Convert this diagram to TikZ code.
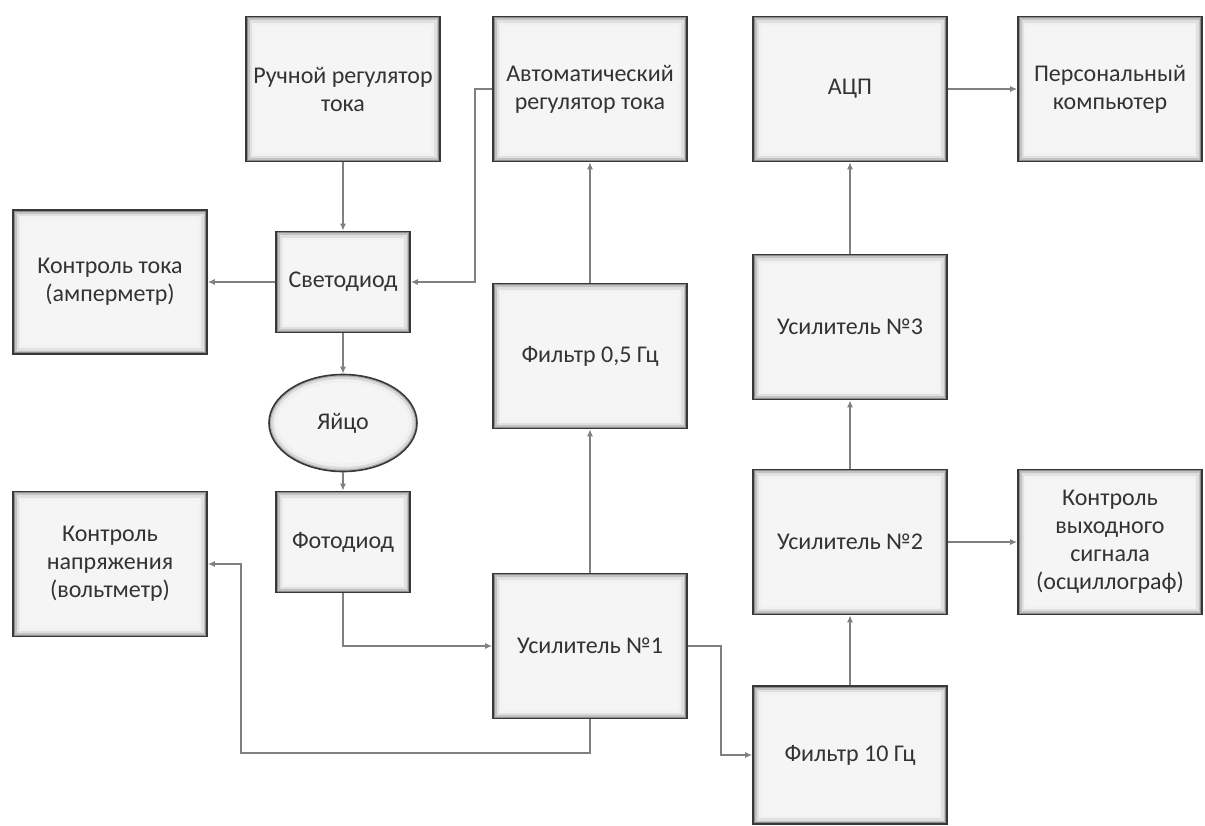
\documentclass[tikz,border=0pt]{standalone}
\usepackage{fontspec}
\setmainfont{Carlito}
\usetikzlibrary{arrows.meta,shapes.geometric}
\begin{document}
\begin{tikzpicture}[x=1pt, y=-1pt,
  font=\fontsize{24}{28}\selectfont,
  innerglow/.style={path picture={
    \foreach \w/\c in {18/5,12/12,7/24,3.5/45}
      \draw[line width=\w pt, black!\c] (path picture bounding box.south west) rectangle (path picture bounding box.north east);}},
  block/.style={rectangle, draw=black!78, line width=1.6pt, fill=black!4, text=black!80, align=center, inner sep=2pt, minimum width=194pt, minimum height=145pt, innerglow},
  eggbox/.style={ellipse, draw=black!78, line width=1.6pt, fill=black!4, text=black!80, inner sep=0pt, minimum width=148pt, minimum height=97pt,
    path picture={\foreach \w/\c in {16/6,9/15,4/32}
      \draw[line width=\w pt, black!\c] (path picture bounding box.center) ellipse [x radius=74pt, y radius=48.5pt];}},
  link/.style={draw=black!50, line width=1.6pt, -{Latex[length=7pt,width=6pt]}}]
\useasboundingbox (0,0) rectangle (1205,825);
% top row
\node[block] (ruch) at (343,89) {Ручной регулятор\\тока};
\node[block] (avto) at (590,89) {Автоматический\\регулятор тока};
\node[block] (adc) at (850,89) {АЦП};
\node[block, minimum width=184pt] (pc) at (1110,89) {Персональный\\компьютер};
% middle
\node[block, minimum height=144pt] (ktok) at (110,282) {Контроль тока\\(амперметр)};
\node[block, minimum width=134pt, minimum height=101pt] (led) at (343,282) {Светодиод};
\node[block] (f05) at (590,356) {Фильтр 0,5 Гц};
\node[block] (us3) at (850,327) {Усилитель №3};
\node[eggbox] (egg) at (343,423) {Яйцо};
\node[block, minimum width=134pt, minimum height=101pt] (photo) at (343,542) {Фотодиод};
\node[block] (knapr) at (110,564) {Контроль\\напряжения\\(вольтметр)};
\node[block] (us2) at (850,542) {Усилитель №2};
\node[block, minimum width=184pt] (kvyh) at (1110,542) {Контроль\\выходного\\сигнала\\(осциллограф)};
% bottom
\node[block] (us1) at (590,646) {Усилитель №1};
\node[block, minimum height=138pt] (f10) at (850,755) {Фильтр 10 Гц};
\coordinate (vmloop) at (241,753);
% connectors
\draw[link] (ruch.south) -- (led.north);
\draw[link] (led.west) -- (ktok.east);
\draw[link] (avto.west) -- ++(-17,0) |- (led.east);
\draw[link] (led.south) -- (egg.north);
\draw[link] (egg.south) -- (photo.north);
\draw[link] (photo.south) |- (us1.west);
\draw[link] (us1.south) |- (vmloop) |- (knapr.east);
\draw[link] (us1.north) -- (f05.south);
\draw[link] (f05.north) -- (avto.south);
\draw[link] (us1.east) -- ++(33,0) |- (f10.west);
\draw[link] (f10.north) -- (us2.south);
\draw[link] (us2.north) -- (us3.south);
\draw[link] (us3.north) -- (adc.south);
\draw[link] (adc.east) -- (pc.west);
\draw[link] (us2.east) -- (kvyh.west);
\end{tikzpicture}
\end{document}
